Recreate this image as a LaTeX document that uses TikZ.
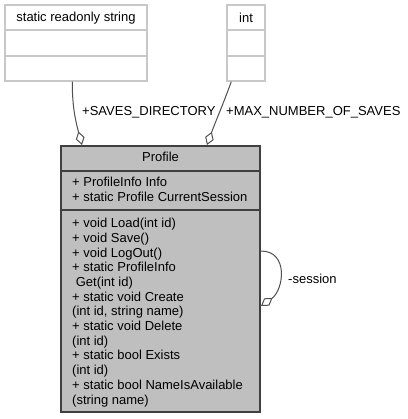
\documentclass[tikz,border=0pt]{standalone}
\usepackage{fontspec}
\setmainfont{Liberation Sans}
\usetikzlibrary{arrows.meta}
\definecolor{classfill}{HTML}{BFBFBF}
\definecolor{classline}{HTML}{404040}
\definecolor{typeline}{HTML}{C8C8C8}
\definecolor{assocline}{HTML}{505050}

\begin{document}
\begin{tikzpicture}[
        x=1pt, y=-1pt,
        % Define styles
        typebox/.style={draw=typeline, line width=1.5pt, fill=white, inner sep=0pt},
        classbox/.style={draw=classline, line width=2pt, fill=classfill, inner sep=0pt},
        member/.style={font=\fontsize{13}{14.7}\selectfont, align=left, inner sep=0pt, anchor=north west},
        rolelabel/.style={font=\fontsize{13}{14.7}\selectfont, inner sep=0pt, anchor=west},
        assoc/.style={draw=assocline, line width=1pt, -{Diamond[open, length=14pt, width=9pt]}}
    ]
        \useasboundingbox (0,0) rectangle (407,419);

        % --- Type boxes ---
        \node[typebox, minimum width=142pt, minimum height=76pt] (strbox) at (76,43) {};
        \node[typebox, minimum width=38pt, minimum height=76pt] (intbox) at (246,43) {};
        \draw[typeline, line width=1.5pt] ([yshift=-26pt]strbox.north west) -- ([yshift=-26pt]strbox.north east);
        \draw[typeline, line width=1.5pt] ([yshift=-52pt]strbox.north west) -- ([yshift=-52pt]strbox.north east);
        \draw[typeline, line width=1.5pt] ([yshift=-26pt]intbox.north west) -- ([yshift=-26pt]intbox.north east);
        \draw[typeline, line width=1.5pt] ([yshift=-52pt]intbox.north west) -- ([yshift=-52pt]intbox.north east);
        \node[rolelabel, anchor=center] (strname) at (76,18) {static readonly string};
        \node[rolelabel, anchor=center] (intname) at (246,18) {int};

        % --- Profile class ---
        \node[classbox, minimum width=199pt, minimum height=266pt] (profile) at (160.5,279) {};
        \draw[classline, line width=2pt] ([yshift=-26pt]profile.north west) -- ([yshift=-26pt]profile.north east);
        \draw[classline, line width=2pt] ([yshift=-65pt]profile.north west) -- ([yshift=-65pt]profile.north east);
        \node[rolelabel, anchor=base] (profname) at (160.5,161.5) {Profile};
        \node[member] (attrs) at (72,177) {+ ProfileInfo Info\\+ static Profile CurrentSession};
        \node[member] (methods) at (72,218) {+ void Load(int id)\\+ void Save()\\+ void LogOut()\\+ static ProfileInfo\\\ Get(int id)\\+ static void Create\\(int id, string name)\\+ static void Delete\\(int id)\\+ static bool Exists\\(int id)\\+ static bool NameIsAvailable\\(string name)};

        % --- Associations ---
        \draw[assoc] ([xshift=68pt]strbox.south west) to[out=-90, in=105] ([xshift=22pt]profile.north west);
        \draw[assoc] ([xshift=5pt]intbox.south west) to[out=-110, in=70] ([xshift=147pt]profile.north west);
        \draw[assoc] ([yshift=28pt]profile.east) to[out=0, in=35, looseness=1.3] ([yshift=-27pt]profile.east);

        % --- Role labels ---
        \node[rolelabel] (dirlabel) at (82,112) {+SAVES\_DIRECTORY};
        \node[rolelabel] (maxlabel) at (226,112) {+MAX\_NUMBER\_OF\_SAVES};
        \node[rolelabel] (sesslabel) at (288,279) {-session};

    \end{tikzpicture}
\end{document}
